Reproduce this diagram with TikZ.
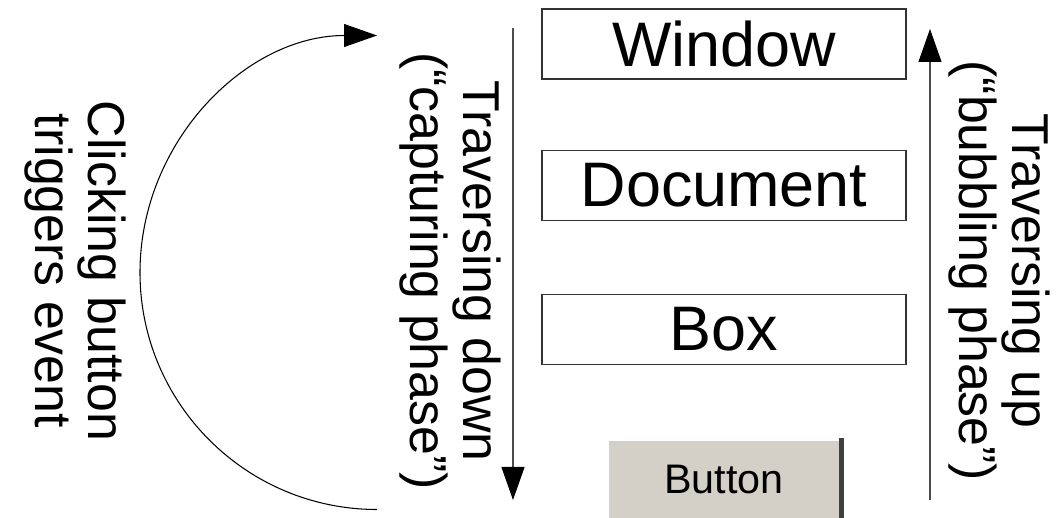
\documentclass[tikz,border=0pt]{standalone}
\usepackage{fontspec}
\setmainfont{Liberation Sans}
\usetikzlibrary{positioning,arrows.meta}
\usepackage{xcolor}

\definecolor{buttongray}{HTML}{D4D0C8}

\begin{document}
\begin{tikzpicture}[
layernode/.style={rectangle, draw=black!80, fill=white, line width=0.6pt, minimum width=7.28cm, minimum height=1.4cm, inner sep=0pt, font=\fontsize{35.8}{40}\selectfont},
buttonnode/.style={rectangle, fill=buttongray, minimum width=4.6cm, minimum height=1.54cm, inner sep=0pt, font=\fontsize{23.5}{25}\selectfont},
phasetext/.style={rotate=-90, align=center, inner sep=0pt, font=\fontsize{29.5}{30.2}\selectfont},
phasearrow/.style={draw=black!70, line width=0.6pt, -{Triangle[length=0.66cm, width=0.46cm, color=black, fill=black]}},
]
\useasboundingbox (0,0) rectangle (21.18,10.36);

%Nodes
%%% Capas del DOM
\node[layernode]      (window)     at (14.48,9.48) {Window};
\node[layernode]      (document)   [below=1.4cm of window] {Document};
\node[layernode]      (box)        [below=1.46cm of document] {Box};
\node[buttonnode]     (button)     [below=1.52cm of box] {Button};

%%% Sombra del boton
\draw[black!75, line width=0.1cm] ([xshift=0.05cm,yshift=0.06cm]button.north east) -- ([xshift=0.05cm,yshift=-0.06cm]button.south east);
\draw[black!55, line width=0.06cm] ([yshift=-0.02cm]button.south west) -- ([yshift=-0.02cm]button.south east);

%%% Extremos de las flechas
\coordinate (captureTop) at (10.26,9.8);
\coordinate (captureBottom) at (10.26,0.36);
\coordinate (bubbleBottom) at (18.6,0.36);
\coordinate (bubbleTop) at (18.6,9.78);
\coordinate (clickStart) at (7.54,0.17);

%%% Textos
\node[phasetext]      (clickLabel)   at (1.5,4.94)  {Clicking button\\triggers event};
\node[phasetext]      (captureLabel) at (9.0,4.94)  {Traversing down\\(“capturing phase”)};
\node[phasetext]      (bubbleLabel)  at (19.98,4.94) {Traversing up\\(“bubbling phase”)};

%Lines
\draw[phasearrow, draw=black] (clickStart) arc[start angle=270, end angle=90, radius=4.74];
\draw[phasearrow] (captureTop) -- (captureBottom);
\draw[phasearrow] (bubbleBottom) -- (bubbleTop);

\end{tikzpicture}
\end{document}
